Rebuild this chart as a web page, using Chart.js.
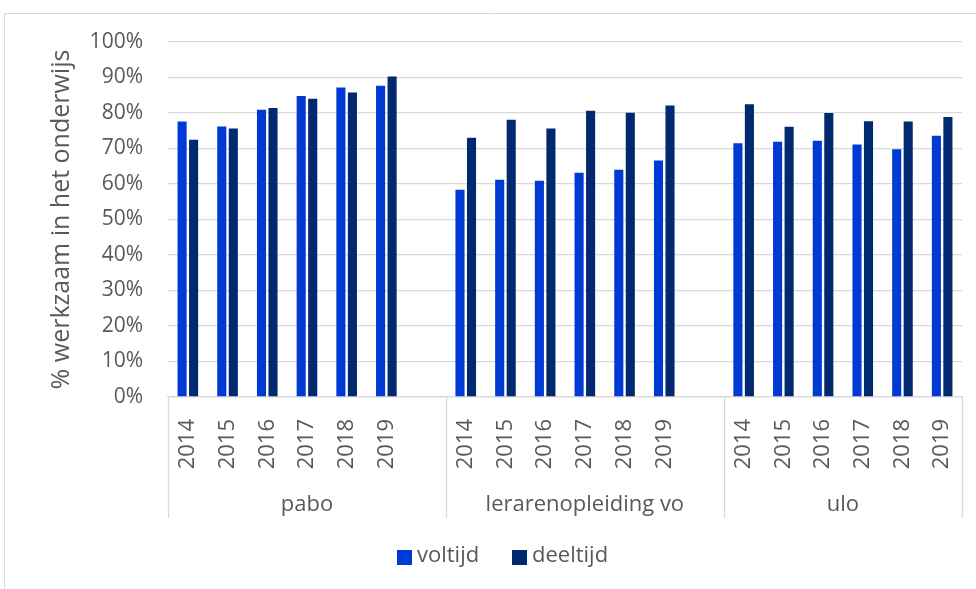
<!DOCTYPE html>
<html>
<head>
<meta charset="utf-8">
<script src="https://cdn.jsdelivr.net/npm/chart.js@4/dist/chart.umd.min.js"></script>
<style>
  html, body { margin: 0; padding: 0; background: #ffffff; }
  #wrap { position: relative; width: 976px; height: 589px; }
</style>
</head>
<body>
<div id="wrap"><canvas id="c" width="976" height="589"></canvas></div>
<script>
// Opleidingen en jaren
const groups = ['pabo', 'lerarenopleiding vo', 'ulo'];
const years = ['2014', '2015', '2016', '2017', '2018', '2019'];

// % werkzaam in het onderwijs, per opleiding
const voltijdPabo = [77.6, 76.2, 80.9, 84.8, 87.2, 87.7];
const deeltijdPabo = [72.5, 75.6, 81.4, 84.0, 85.8, 90.3];
const voltijdLovo = [58.4, 61.2, 60.9, 63.2, 64.0, 66.6];
const deeltijdLovo = [73.0, 78.1, 75.6, 80.6, 80.1, 82.1];
const voltijdUlo = [71.5, 71.9, 72.2, 71.1, 69.8, 73.6];
const deeltijdUlo = [82.5, 76.1, 80.0, 77.7, 77.6, 78.9];

const yTicks = [0, 10, 20, 30, 40, 50, 60, 70, 80, 90, 100];

const FONT = "'Open Sans', 'Noto Sans', sans-serif";
const TEXT = '#595959';
const LINE = '#d9d9d9';
const C_VOL = '#003AD4';
const C_DEEL = '#00296F';

// Categorieën: jaren per opleiding, met een lege kolom tussen de opleidingen
const labels = [];
const groupStart = [];
const volData = [];
const deelData = [];
const volSets = [voltijdPabo, voltijdLovo, voltijdUlo];
const deelSets = [deeltijdPabo, deeltijdLovo, deeltijdUlo];
groups.forEach((g, gi) => {
  groupStart.push(labels.length);
  years.forEach((y, yi) => {
    labels.push(y);
    volData.push(volSets[gi][yi]);
    deelData.push(deelSets[gi][yi]);
  });
  if (gi < groups.length - 1) {
    labels.push('');
    volData.push(null);
    deelData.push(null);
  }
});

// Kader, opleidingsnamen, scheidingslijnen en legenda
const extras = {
  id: 'extras',
  beforeDraw(chart) {
    const ctx = chart.ctx;
    ctx.save();
    ctx.strokeStyle = LINE;
    ctx.lineWidth = 1;
    ctx.beginPath();
    ctx.moveTo(4.5, 589);
    ctx.lineTo(4.5, 13.5);
    ctx.lineTo(976, 13.5);
    ctx.stroke();
    ctx.restore();
  },
  afterDraw(chart) {
    const ctx = chart.ctx;
    const x = chart.scales.x;
    const area = chart.chartArea;
    const slot = x.getPixelForValue(1) - x.getPixelForValue(0);
    const edges = groupStart.map(i => x.getPixelForValue(i) - slot / 2);
    edges.push(area.right);
    ctx.save();
    ctx.strokeStyle = LINE;
    ctx.lineWidth = 1.3;
    ctx.beginPath();
    edges.forEach(px => {
      const p = Math.round(px) + 0.5;
      ctx.moveTo(p, area.bottom);
      ctx.lineTo(p, area.bottom + 121);
    });
    ctx.stroke();
    ctx.fillStyle = TEXT;
    ctx.font = '22px ' + FONT;
    ctx.textAlign = 'center';
    ctx.textBaseline = 'middle';
    groups.forEach((g, gi) => {
      ctx.fillText(g, (edges[gi] + edges[gi + 1]) / 2, area.bottom + 108);
    });
    // legenda
    const items = chart.data.datasets;
    const legendX = [397, 512];
    ctx.textAlign = 'left';
    items.forEach((ds, i) => {
      ctx.fillStyle = ds.backgroundColor;
      ctx.fillRect(legendX[i], 550, 15, 15);
      ctx.fillStyle = TEXT;
      ctx.fillText(ds.label, legendX[i] + 20, 556);
    });
    ctx.restore();
  }
};

new Chart(document.getElementById('c'), {
  type: 'bar',
  data: {
    labels: labels,
    datasets: [
      { label: 'voltijd', data: volData, backgroundColor: C_VOL },
      { label: 'deeltijd', data: deelData, backgroundColor: C_DEEL }
    ]
  },
  options: {
    responsive: false,
    animation: false,
    devicePixelRatio: 1,
    layout: { padding: { left: 0, right: 14, top: 42, bottom: 0 } },
    datasets: { bar: { categoryPercentage: 0.58, barPercentage: 0.79 } },
    plugins: { legend: { display: false }, tooltip: { enabled: false } },
    scales: {
      x: {
        grid: { display: false },
        border: { display: true, color: LINE, width: 1.3 },
        ticks: {
          autoSkip: false,
          minRotation: 90,
          maxRotation: 90,
          padding: 14,
          color: TEXT,
          font: { family: FONT, size: 22 }
        },
        afterFit(s) { s.height = 192; s.paddingLeft = 0; s.paddingRight = 0; }
      },
      y: {
        min: 0,
        max: 100,
        afterBuildTicks(s) { s.ticks = yTicks.map(v => ({ value: v })); },
        grid: { color: LINE, lineWidth: 1.3, drawTicks: false },
        border: { display: false },
        ticks: {
          padding: 25,
          color: TEXT,
          font: { family: FONT, size: 21 },
          callback: v => v + '%'
        },
        title: {
          display: true,
          text: '% werkzaam in het onderwijs',
          color: TEXT,
          font: { family: FONT, size: 25 },
          padding: { top: 47, bottom: 0 }
        },
        afterFit(s) { s.width = 168; s.paddingTop = 0; s.paddingBottom = 0; }
      }
    }
  },
  plugins: [extras]
});
</script>
</body>
</html>
